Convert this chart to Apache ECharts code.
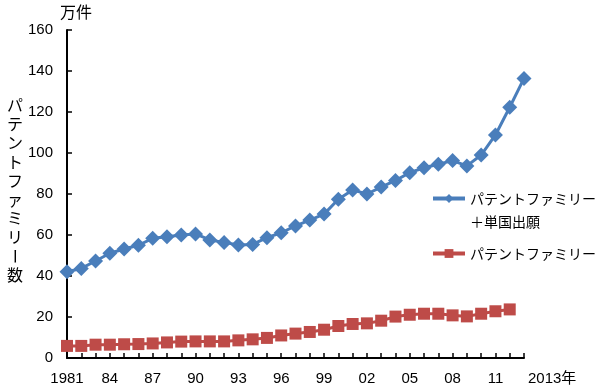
<!DOCTYPE html>
<html>
<head>
<meta charset="utf-8">
<script src="https://cdn.jsdelivr.net/npm/echarts@6/dist/echarts.min.js"></script>
<style>html,body{margin:0;padding:0;background:#fff}#c{width:600px;height:392px}</style>
</head>
<body>
<div id="c"></div>
<script>
var years = ['1981','1982','1983','1984','1985','1986','1987','1988','1989','1990','1991','1992','1993','1994','1995','1996','1997','1998','1999','2000','2001','2002','2003','2004','2005','2006','2007','2008','2009','2010','2011','2012','2013'];
var yearLabels = {'1981':'1981','1984':'84','1987':'87','1990':'90','1993':'93','1996':'96','1999':'99','2002':'02','2005':'05','2008':'08','2011':'11'};
var lastYearLabel = '2013年';
var familyPlusSingle = [42.1,43.7,47.3,51.1,53.2,55.0,58.4,59.2,60.0,60.5,57.6,56.4,55.1,55.4,58.7,61.1,64.4,67.3,70.2,77.4,82.0,80.0,83.4,86.6,90.4,92.8,94.5,96.3,93.7,99.0,108.8,122.3,136.4];
var family = [5.9,5.9,6.5,6.5,6.7,6.8,7.1,7.6,8.0,8.1,8.1,8.1,8.6,9.1,9.8,11.0,11.9,12.7,13.8,15.6,16.6,16.9,18.2,20.2,21.1,21.6,21.6,20.8,20.3,21.6,22.8,23.7];
var seriesNames = ['パテントファミリー＋単国出願','パテントファミリー'];
var yUnit = '万件';
var yTitle = 'パテントファミリー数';
var yMin = 0, yMax = 160, yStep = 20;

var FONT = "'Liberation Sans','Noto Sans CJK JP',sans-serif";
var JFONT = "'Noto Sans CJK JP',sans-serif";
var BLUE = '#4A7EBB', RED = '#BE4B48';

var titleGraphics = [];
for (var i = 0; i < yTitle.length; i++) {
  var ch = yTitle.charAt(i);
  titleGraphics.push({
    type: 'text',
    x: 15,
    y: 105 + i * 18.9,
    rotation: ch === 'ー' ? -Math.PI / 2 : 0,
    style: {text: ch, fontSize: 16, fontFamily: JFONT, fill: '#000', align: 'center', verticalAlign: 'middle'}
  });
}

var chart = echarts.init(document.getElementById('c'), null, {renderer: 'canvas'});
chart.setOption({
  animation: false,
  backgroundColor: '#fff',
  grid: {left: 67, right: 76, top: 30, bottom: 34, containLabel: false},
  legend: [
    {
      data: [seriesNames[0]],
      left: 431, top: 164, padding: 0,
      itemWidth: 32, itemHeight: 11, itemGap: 0,
      lineStyle: {width: 4},
      formatter: function (n) { return ' \n' + n.replace('＋', '\n＋'); },
      textStyle: {fontSize: 14, fontFamily: JFONT, color: '#000', lineHeight: 23}
    },
    {
      data: [seriesNames[1]],
      left: 431, top: 242, padding: 0,
      itemWidth: 32, itemHeight: 11, itemGap: 0,
      lineStyle: {width: 4},
      textStyle: {fontSize: 14, fontFamily: JFONT, color: '#000', lineHeight: 23}
    }
  ],
  xAxis: {
    type: 'category',
    data: years,
    boundaryGap: false,
    name: lastYearLabel,
    nameLocation: 'end',
    nameGap: 4,
    nameTextStyle: {fontSize: 15, fontFamily: FONT, color: '#000', verticalAlign: 'top', lineHeight: 15, padding: [13, 0, 0, 0]},
    axisLine: {lineStyle: {color: '#000', width: 2}},
    axisTick: {inside: true, length: 5, interval: 0, lineStyle: {color: '#000', width: 1.5}},
    axisLabel: {
      interval: 0,
      margin: 13,
      fontSize: 15, fontFamily: FONT, color: '#000',
      formatter: function (v) { return yearLabels[v] || ''; }
    },
    splitLine: {show: false}
  },
  yAxis: {
    type: 'value',
    min: yMin, max: yMax, interval: yStep,
    name: yUnit,
    nameLocation: 'end',
    nameGap: 10,
    nameTextStyle: {fontSize: 16, fontFamily: JFONT, color: '#000', padding: [0, 0, 0, 18]},
    axisLine: {show: true, lineStyle: {color: '#000', width: 2}},
    axisTick: {show: true, inside: true, length: 5, lineStyle: {color: '#000', width: 1.5}},
    axisLabel: {margin: 14, fontSize: 15, fontFamily: FONT, color: '#000'},
    splitLine: {show: false}
  },
  series: [
    {
      name: seriesNames[0],
      type: 'line',
      data: familyPlusSingle,
      symbol: 'diamond', symbolSize: 15,
      color: BLUE,
      lineStyle: {width: 3, color: BLUE},
      itemStyle: {color: BLUE}
    },
    {
      name: seriesNames[1],
      type: 'line',
      data: family,
      symbol: 'rect', symbolSize: 12,
      color: RED,
      lineStyle: {width: 3, color: RED},
      itemStyle: {color: RED}
    }
  ],
  graphic: titleGraphics
});
</script>
</body>
</html>
